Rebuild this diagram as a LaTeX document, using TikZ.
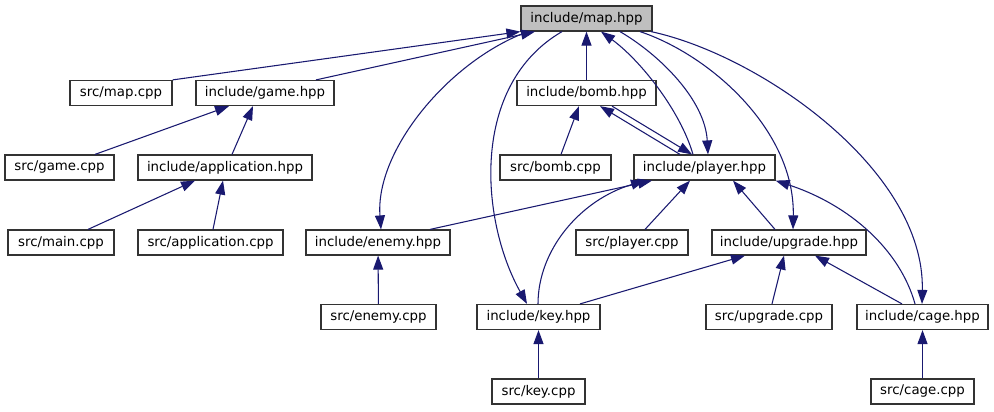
\documentclass[tikz,border=0pt]{standalone}
\usepackage{fontspec}
\setmainfont{DejaVu Sans}
\usetikzlibrary{arrows.meta}
\definecolor{edgec}{HTML}{191970}
\definecolor{boxc}{HTML}{333333}
\definecolor{curfill}{HTML}{BFBFBF}
\newcommand\gnode[6][]{\node[box,minimum width=#5*0.75pt,#1] (#2) at (#3,#4) {#6};}
\begin{document}
\begin{tikzpicture}[x=0.75pt,y=-0.75pt,
  box/.style={draw=boxc, line width=0.9pt, minimum height=25*0.75pt, inner sep=0pt,
    font=\fontsize{10pt}{12pt}\selectfont, text=black, fill=white},
  cur/.style={fill=curfill},
  edge/.style={draw=edgec, line width=0.8pt, -{Triangle[length=10.5pt,width=7.5pt]}}]
\useasboundingbox (0,0) rectangle (994,411);
% nodes
\gnode[cur]{map}{586.5}{18.5}{131}{include/map.hpp}
\gnode{srcmap}{121}{93}{102}{src/map.cpp}
\gnode{game}{265}{93}{138}{include/game.hpp}
\gnode{bomb}{586.5}{93}{139}{include/bomb.hpp}
\gnode{srcgame}{59.5}{167.5}{109}{src/game.cpp}
\gnode{app}{225}{167.5}{174}{include/application.hpp}
\gnode{srcbomb}{555.5}{167.5}{111}{src/bomb.cpp}
\gnode{player}{704.5}{167.5}{141}{include/player.hpp}
\gnode{srcmain}{61}{242.5}{106}{src/main.cpp}
\gnode{srcapp}{210.5}{242.5}{145}{src/application.cpp}
\gnode{enemy}{378}{242.5}{144}{include/enemy.hpp}
\gnode{srcplayer}{632}{242.5}{112}{src/player.cpp}
\gnode{upgrade}{789}{242.5}{154}{include/upgrade.hpp}
\gnode{srcenemy}{378.5}{317}{115}{src/enemy.cpp}
\gnode{key}{538.5}{317}{123}{include/key.hpp}
\gnode{srcupgrade}{769}{317}{126}{src/upgrade.cpp}
\gnode{cage}{922.5}{317}{131}{include/cage.hpp}
\gnode{srckey}{538.5}{391.5}{93}{src/key.cpp}
\gnode{srccage}{922.5}{391.5}{103}{src/cage.cpp}
% edges into map.hpp
\draw[edge] (srcmap.north east) -- (map.south west);
\draw[edge] (game.north -| 316,0) -- (map.south -| 535,0);
\draw[edge] (bomb.north) -- (map.south);
\draw[edge] (player.north -| 693,0) .. controls (680,110) and (640,60) .. (map.south -| 601,0);
% edges out of map.hpp
\draw[edge] (map.south -| 528,0) .. controls (450,60) and (375,150) .. (enemy.north -| 381,0);
\draw[edge] (map.south -| 562,0) .. controls (470,85) and (480,220) .. (key.north -| 527,0);
\draw[edge] (map.south -| 620,0) .. controls (660,55) and (705,100) .. (player.north -| 708,0);
\draw[edge] (map.south -| 640,0) .. controls (710,55) and (795,130) .. (upgrade.north -| 793,0);
\draw[edge] (map.south -| 651,0) .. controls (760,55) and (925,170) .. (cage.north -| 922,0);
% game / application
\draw[edge] (srcgame.north -| 95,0) -- (game.south -| 229,0);
\draw[edge] (app.north -| 232,0) -- (game.south -| 253,0);
\draw[edge] (srcmain.north -| 88,0) -- (app.south -| 195,0);
\draw[edge] (srcapp.north -| 213,0) -- (app.south -| 223,0);
% bomb
\draw[edge] (srcbomb.north -| 561,0) -- (bomb.south -| 579,0);
\draw[edge] (player.north -| 680,0) -- (bomb.south -| 600,0);
\draw[edge] (bomb.south -| 612,0) -- (player.north -| 692,0);
% player
\draw[edge] (enemy.north -| 430,0) -- (player.south -| 652,0);
\draw[edge] (key.north -| 538,0) .. controls (538,250) and (580,200) .. (player.south -| 645,0);
\draw[edge] (srcplayer.north -| 645,0) -- (player.south -| 690,0);
\draw[edge] (upgrade.north -| 775,0) -- (player.south -| 733,0);
\draw[edge] (cage.north -| 915,0) .. controls (900,250) and (850,205) .. (player.south east);
% upgrade
\draw[edge] (key.north -| 580,0) -- (upgrade.south -| 745,0);
\draw[edge] (srcupgrade.north -| 772,0) -- (upgrade.south -| 784,0);
\draw[edge] (cage.north -| 902,0) -- (upgrade.south -| 815,0);
% leaves
\draw[edge] (srcenemy) -- (enemy);
\draw[edge] (srckey) -- (key);
\draw[edge] (srccage) -- (cage);
\end{tikzpicture}
\end{document}
